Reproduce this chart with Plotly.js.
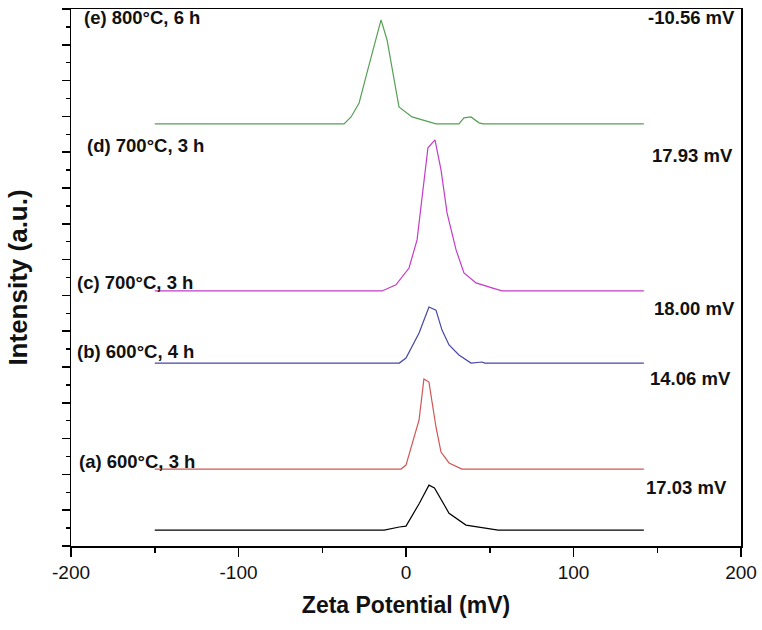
<!DOCTYPE html>
<html>
<head>
<meta charset="utf-8">
<script src="https://cdn.plot.ly/plotly-3.0.1.min.js"></script>
<style>html,body{margin:0;padding:0;background:#fff}#chart{width:762px;height:630px}</style>
</head>
<body>
<div id="chart"></div>
<script>
// Zeta potential distributions (mV) and relative intensities (a.u.), stacked with offsets
const xA = [-150, -13, -4, 0, 8, 13.7, 17, 21, 25.7, 35.8, 51.3, 55, 142];
const yA = [0, 0, 0.17, 0.22, 1.5, 2.51, 2.35, 1.7, 0.94, 0.28, 0.06, 0, 0];

const xB = [-150, -3, 0, 7.8, 10.7, 13.7, 17.9, 20.9, 25.7, 33.4, 142];
const yB = [0, 0, 0.22, 2.74, 5.03, 4.86, 2.35, 0.95, 0.34, 0, 0];

const xC = [-150, -4, 0, 7.8, 13.7, 17.9, 21.5, 25.7, 31.6, 38.8, 45.4, 47, 142];
const yC = [0, 0, 0.28, 1.68, 3.13, 2.96, 1.84, 1.01, 0.45, 0, 0.06, 0, 0];

const xD = [-150, -14.3, -6, 1.8, 6.6, 9.6, 13.1, 17.3, 20.9, 24.5, 29.9, 34.6, 41.8, 51.3, 57.3, 142];
const yD = [0, 0, 0.34, 1.28, 2.85, 5.25, 8.0, 8.44, 6.76, 4.36, 2.29, 1.01, 0.45, 0.17, 0, 0];

const xE = [-150, -37, -32.8, -28, -23.3, -17.9, -14.9, -11.3, -7.2, -4.2, 3.6, 13.7, 17.9, 31.6, 34.6, 38.8, 43.6, 46, 142];
const yE = [0, 0, 0.39, 1.17, 2.85, 4.86, 5.81, 4.69, 2.46, 0.95, 0.39, 0.11, 0, 0, 0.34, 0.39, 0.06, 0, 0];

const offsets = [0.89, 4.30, 10.22, 14.25, 23.58];
const sampleLabels = ["(a) 600°C, 3 h", "(b) 600°C, 4 h", "(c) 700°C, 3 h", "(d) 700°C, 3 h", "(e) 800°C, 6 h"];
const zetaLabels = ["17.03 mV", "14.06 mV", "18.00 mV", "17.93 mV", "-10.56 mV"];
const colors = ["#000000", "#d25555", "#4646a8", "#c43cc8", "#55a055"];

const xs = [xA, xB, xC, xD, xE];
const ys = [yA, yB, yC, yD, yE];

const traces = xs.map((x, i) => ({
  x: x,
  y: ys[i].map(v => v + offsets[i]),
  type: 'scatter',
  mode: 'lines',
  line: {color: colors[i], width: 1.2},
  hoverinfo: 'skip',
  showlegend: false
}));

// label positions (paper coords)
const leftLabelX = [0.009, 0.006, 0.006, 0.021, 0.016];
const leftLabelY = [0.158, 0.362, 0.490, 0.746, 0.985];
const rightLabelX = [0.982, 0.988, 0.994, 0.991, 0.994];
const rightLabelY = [0.109, 0.311, 0.443, 0.727, 0.985];

const labelFont = {family: 'Liberation Sans, Arial', size: 18.5, color: '#111'};
const annotations = [];
sampleLabels.forEach((t, i) => {
  annotations.push({xref: 'paper', yref: 'paper', x: leftLabelX[i], y: leftLabelY[i], text: '<b>' + t + '</b>', showarrow: false,
    xanchor: 'left', yanchor: 'middle', font: labelFont});
});
zetaLabels.forEach((t, i) => {
  annotations.push({xref: 'paper', yref: 'paper', x: rightLabelX[i], y: rightLabelY[i], text: '<b>' + t + '</b>', showarrow: false,
    xanchor: 'right', yanchor: 'middle', font: labelFont});
});

const layout = {
  width: 762, height: 630,
  margin: {l: 71, r: 21, t: 9, b: 84},
  paper_bgcolor: '#fff', plot_bgcolor: '#fff',
  xaxis: {
    range: [-200, 200], tickvals: [-200, -100, 0, 100, 200], ticktext: ['-200', '-100', '0', '100', '200'],
    ticks: 'outside', ticklen: 9, tickwidth: 1.5, tickcolor: '#000',
    minor: {ticks: 'outside', tickvals: [-150, -50, 50, 150], ticklen: 5, tickwidth: 1.5, tickcolor: '#000'},
    showline: true, linecolor: '#000', linewidth: 1.5, mirror: true,
    showgrid: false, zeroline: false,
    tickfont: {family: 'Liberation Sans, Arial', size: 19, color: '#111'},
    title: {text: '<b>Zeta Potential (mV)</b>', font: {family: 'Liberation Sans, Arial', size: 23, color: '#111'}, standoff: 14}
  },
  yaxis: {
    range: [0, 30], dtick: 2, tick0: 0, showticklabels: false,
    ticks: 'outside', ticklen: 8, tickwidth: 1.5, tickcolor: '#000',
    minor: {ticks: 'outside', dtick: 1, ticklen: 4, tickwidth: 1.5, tickcolor: '#000'},
    showline: true, linecolor: '#000', linewidth: 1.5, mirror: true,
    showgrid: false, zeroline: false,
    title: {text: '<b>Intensity (a.u.)</b>', font: {family: 'Liberation Sans, Arial', size: 26, color: '#111'}, standoff: 26}
  },
  annotations: annotations
};

Plotly.newPlot('chart', traces, layout, {displayModeBar: false, staticPlot: true});
</script>
</body>
</html>
